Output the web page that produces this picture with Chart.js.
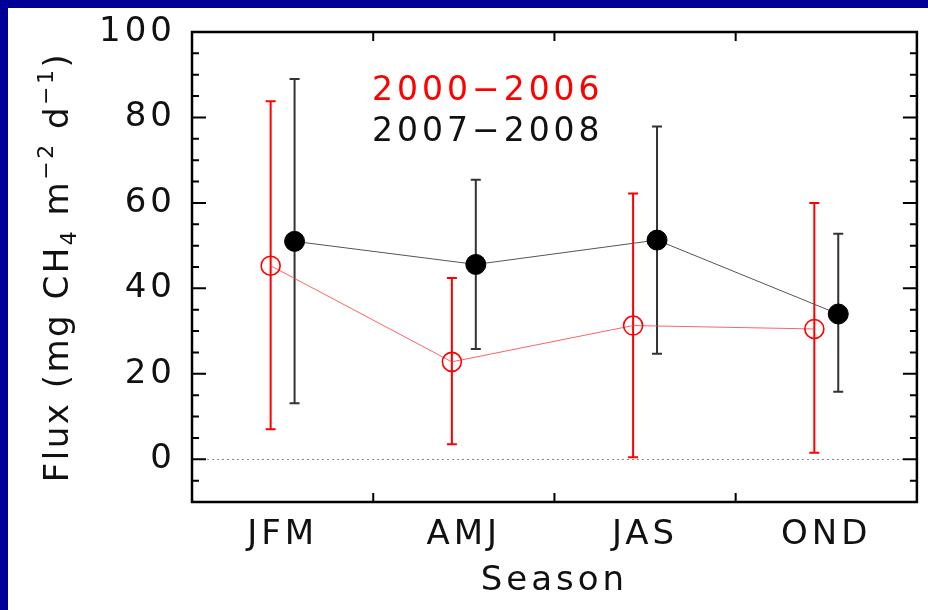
<!DOCTYPE html>
<html lang="en">
<head>
<meta charset="utf-8">
<title>Seasonal CH4 flux</title>
<script src="https://cdn.jsdelivr.net/npm/chart.js@4.4.1/dist/chart.umd.min.js"></script>
<style>
  html, body { margin: 0; padding: 0; width: 100%; height: 100%; background: #ffffff; overflow: hidden; }
  #frame {
    position: fixed; left: 0; top: 0; right: 0; bottom: 0;
    box-sizing: border-box;
    border-left: 8px solid #000099; border-top: 8px solid #000099;
    background: #ffffff;
  }
  #box { position: relative; width: 100%; height: 100%; }
</style>
</head>
<body>
<div id="frame"><div id="box"><canvas id="fluxChart"></canvas></div></div>
<script>
// =========================
// Datos
// =========================
const seasons = ["JFM", "AMJ", "JAS", "OND"];
const yTicks = [0, 20, 40, 60, 80, 100];

const labelOld = "2000\u22122006";
const fluxOld = [45.3, 22.8, 31.3, 30.5];
const fluxOldLow = [7, 3.5, 0.5, 1.5];
const fluxOldHigh = [83.8, 42.4, 62.2, 60];

const labelNew = "2007\u22122008";
const fluxNew = [51, 45.6, 51.3, 34];
const fluxNewLow = [13.1, 25.8, 24.7, 15.8];
const fluxNewHigh = [89, 65.4, 77.9, 52.8];

// y title pieces: [text, shift] (1 = subscript, -1 = superscript)
const yTitleParts = [["Flux (mg CH", 0], ["4", 1], [" m", 0], ["\u22122", -1], [" d", 0], ["\u22121", -1], [")", 0]];

const FONT = "'DejaVu Sans', sans-serif";
const OFFSET = 0.066; // side-by-side shift inside each season

function points(values, low, high, shift) {
  return values.map((v, i) => ({ x: i + shift, y: v, lo: low[i], hi: high[i] }));
}

// =========================
// Plugins
// =========================
const spacing = {
  id: "spacing",
  beforeDraw(chart) {
    chart.ctx.letterSpacing = "4px";
  }
};

const zeroLine = {
  id: "zeroLine",
  beforeDatasetsDraw(chart) {
    const { ctx, chartArea, scales: { y } } = chart;
    const py = Math.round(y.getPixelForValue(0)) + 0.5;
    ctx.save();
    ctx.strokeStyle = "#888888";
    ctx.lineWidth = 1;
    ctx.setLineDash([2, 3]);
    ctx.beginPath();
    ctx.moveTo(chartArea.left, py);
    ctx.lineTo(chartArea.right, py);
    ctx.stroke();
    ctx.restore();
  }
};

const errorBars = {
  id: "errorBars",
  beforeDatasetsDraw(chart) {
    const { ctx, scales: { x, y } } = chart;
    chart.data.datasets.forEach(ds => {
      ctx.save();
      ctx.strokeStyle = ds.errColor;
      ctx.lineWidth = 2;
      ds.data.forEach(p => {
        const px = x.getPixelForValue(p.x);
        const top = y.getPixelForValue(p.hi);
        const bot = y.getPixelForValue(p.lo);
        ctx.beginPath();
        ctx.moveTo(px, top); ctx.lineTo(px, bot);
        ctx.moveTo(px - 5, top); ctx.lineTo(px + 5, top);
        ctx.moveTo(px - 5, bot); ctx.lineTo(px + 5, bot);
        ctx.stroke();
      });
      ctx.restore();
    });
  }
};

const axesBox = {
  id: "axesBox",
  afterDatasetsDraw(chart) {
    const { ctx, chartArea: a, scales: { x, y } } = chart;
    ctx.save();
    ctx.strokeStyle = "#000000";
    ctx.lineWidth = 2;
    ctx.beginPath();
    // marcas en y, cada 5 (mayores cada 20)
    for (let v = y.min; v <= y.max; v += 5) {
      const py = y.getPixelForValue(v);
      const len = v % 20 === 0 ? 14 : 7;
      ctx.moveTo(a.left, py); ctx.lineTo(a.left + len, py);
      ctx.moveTo(a.right, py); ctx.lineTo(a.right - len, py);
    }
    // marcas en x entre estaciones
    for (let i = 0; i < seasons.length - 1; i++) {
      const px = x.getPixelForValue(i + 0.5);
      ctx.moveTo(px, a.bottom); ctx.lineTo(px, a.bottom - 9);
      ctx.moveTo(px, a.top); ctx.lineTo(px, a.top + 9);
    }
    ctx.stroke();
    ctx.lineWidth = 2.5;
    ctx.strokeRect(a.left, a.top, a.right - a.left, a.bottom - a.top);
    ctx.restore();
  }
};

const legendText = {
  id: "legendText",
  afterDraw(chart) {
    const { ctx, chartArea: a } = chart;
    ctx.save();
    ctx.font = "33px " + FONT;
    ctx.textBaseline = "middle";
    ctx.textAlign = "left";
    chart.data.datasets.forEach((ds, i) => {
      ctx.fillStyle = ds.errColor === "#ff0000" ? "#ff0000" : "#111111";
      ctx.fillText(ds.label, a.left + 180, a.top + 59 + i * 41);
    });
    ctx.restore();
  }
};

const yTitle = {
  id: "yTitle",
  afterDraw(chart) {
    const { ctx, chartArea: a } = chart;
    const big = "34px " + FONT;
    const small = "22px " + FONT;
    ctx.save();
    ctx.letterSpacing = "2.5px";
    ctx.fillStyle = "#111111";
    let total = 0;
    yTitleParts.forEach(([t, s]) => {
      ctx.font = s === 0 ? big : small;
      total += ctx.measureText(t).width;
    });
    ctx.translate(60, (a.top + a.bottom) / 2);
    ctx.rotate(-Math.PI / 2);
    ctx.textBaseline = "alphabetic";
    ctx.textAlign = "left";
    let cx = -total / 2;
    yTitleParts.forEach(([t, s]) => {
      ctx.font = s === 0 ? big : small;
      const dy = s === 1 ? 8 : s === -1 ? -15 : 0;
      ctx.fillText(t, cx, dy);
      cx += ctx.measureText(t).width;
    });
    ctx.restore();
  }
};

// =========================
// Grafica
// =========================
const ctx = document.getElementById("fluxChart").getContext("2d");

new Chart(ctx, {
  type: "line",
  data: {
    datasets: [
      {
        label: labelOld,
        data: points(fluxOld, fluxOldLow, fluxOldHigh, -OFFSET),
        errColor: "#ff0000",
        borderColor: "rgba(255, 60, 60, 0.8)",
        borderWidth: 1,
        pointStyle: "circle",
        pointRadius: 9.5,
        pointBorderWidth: 1.6,
        pointBorderColor: "#ff0000",
        pointBackgroundColor: "rgba(0,0,0,0)"
      },
      {
        label: labelNew,
        data: points(fluxNew, fluxNewLow, fluxNewHigh, OFFSET),
        errColor: "#333333",
        borderColor: "#555555",
        borderWidth: 1,
        pointStyle: "circle",
        pointRadius: 10,
        pointBorderWidth: 1,
        pointBorderColor: "#000000",
        pointBackgroundColor: "#000000"
      }
    ]
  },
  options: {
    responsive: true,
    maintainAspectRatio: false,
    animation: false,
    devicePixelRatio: 1,
    layout: { padding: { top: 24, right: 5, left: 0, bottom: 0 } },
    plugins: {
      legend: { display: false },
      tooltip: { enabled: false }
    },
    scales: {
      x: {
        type: "linear",
        min: -0.5,
        max: 3.5,
        afterBuildTicks: s => { s.ticks = seasons.map((_, i) => ({ value: i })); },
        afterFit: s => { s.height = 108; s.paddingLeft = 0; s.paddingRight = 0; },
        grid: { display: false },
        border: { display: false },
        ticks: {
          color: "#111111",
          padding: 5,
          maxRotation: 0,
          font: { family: FONT, size: 34 },
          callback: v => seasons[v]
        },
        title: {
          display: true,
          text: "Season",
          color: "#111111",
          font: { family: FONT, size: 34 },
          padding: { top: 0, bottom: 8 }
        }
      },
      y: {
        min: -10,
        max: 100,
        afterBuildTicks: s => { s.ticks = yTicks.map(v => ({ value: v })); },
        afterFit: s => { s.width = 184; s.paddingTop = 0; s.paddingBottom = 0; },
        grid: { display: false },
        border: { display: false },
        ticks: {
          color: "#111111",
          padding: 8,
          font: { family: FONT, size: 34 }
        }
      }
    }
  },
  plugins: [spacing, zeroLine, errorBars, axesBox, legendText, yTitle]
});
</script>
</body>
</html>
